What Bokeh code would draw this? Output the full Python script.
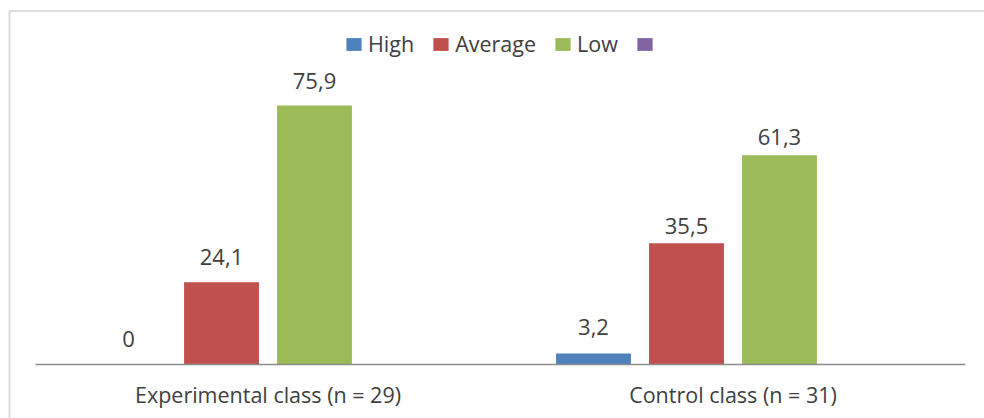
import numpy as np
from bokeh.plotting import figure
from bokeh.models import (ColumnDataSource, Legend, LegendItem, Range1d, BoxAnnotation,
                          FixedTicker)
from bokeh.transform import dodge
from bokeh.core.properties import value
from bokeh.embed import file_html
from bokeh.resources import INLINE

categories = ["Experimental class (n = 29)", "Control class (n = 31)"]
series_names = ["High", "Average", "Low", ""]
high = [0, 3.2]
average = [24.1, 35.5]
low = [75.9, 61.3]
unnamed = [np.nan, np.nan]   # fourth series: present in legend, no values
colors = ["#4F81BD", "#C0504D", "#9BBB59", "#8064A2"]

# label gaps above bar tops (style), per series, per category
label_gap = {"High": [16, 18], "Average": [16, 8], "Low": [16, 9]}
BASELINE_FIX = 9

FONT = "Open Sans"
TXT = "#404040"
W, H = 984, 418

p = figure(x_range=Range1d(-0.5753, 1.5409), y_range=Range1d(-15.83, 106.68),
           width=W, height=H, output_backend="svg", toolbar_location=None,
           min_border_left=0, min_border_right=0, min_border_top=0, min_border_bottom=0)
p.outline_line_color = None
p.xgrid.visible = False
p.ygrid.visible = False
p.yaxis.visible = False

def fmt(v):
    return f"{v:g}".replace(".", ",")

idx = list(range(len(categories)))
series = {"High": high, "Average": average, "Low": low, "Unnamed": unnamed}
src = ColumnDataSource(dict(xi=idx, **series))

offsets = [-0.3, -0.1, 0.1, 0.3]
bw = 0.161
items = []
for name, label, off, c in zip(["High", "Average", "Low", "Unnamed"], series_names,
                               offsets, colors):
    r = p.vbar(x=dodge("xi", off), top=name, width=bw, source=src,
               fill_color=c, line_color=None)
    if name != "Unnamed":
        for i in idx:
            s = ColumnDataSource(dict(xi=[i], v=[series[name][i]], t=[fmt(series[name][i])]))
            p.text(x=dodge("xi", off), y="v", text="t", source=s,
                   text_align="center", text_baseline="alphabetic",
                   y_offset=-(label_gap[name][i] + BASELINE_FIX),
                   text_font=value(FONT), text_font_size="22px", text_color=TXT)
    items.append(LegendItem(label=value(label if label else "\u00a0"), renderers=[r]))

legend = Legend(items=items, orientation="horizontal", location=(344, 360),
                glyph_width=19, glyph_height=16, label_standoff=5, spacing=17,
                padding=5, margin=0, border_line_color=None, background_fill_alpha=0,
                label_text_font=FONT, label_text_font_size="21.5px", label_text_color=TXT)
p.add_layout(legend, "center")

frame_box = BoxAnnotation(left=9, top=10.5, right=3000, bottom=3000,
                          left_units="canvas", right_units="canvas",
                          top_units="canvas", bottom_units="canvas",
                          fill_alpha=0, line_color="#8e8e8e", line_width=2)
p.add_layout(frame_box)

ax = p.xaxis[0]
ax.fixed_location = 0
ax.bounds = (-0.5, 1.5)
ax.ticker = FixedTicker(ticks=idx)
ax.major_label_overrides = {i: c for i, c in zip(idx, categories)}
ax.axis_line_color = "#8c8c8c"
ax.axis_line_width = 1.5
ax.major_tick_line_color = None
ax.minor_tick_line_color = None
ax.major_tick_out = 0
ax.major_tick_in = 0
ax.major_label_standoff = 16
ax.major_label_text_font = FONT
ax.major_label_text_font_size = "21.5px"
ax.major_label_text_color = TXT

open("out.html", "w").write(file_html(p, INLINE))
